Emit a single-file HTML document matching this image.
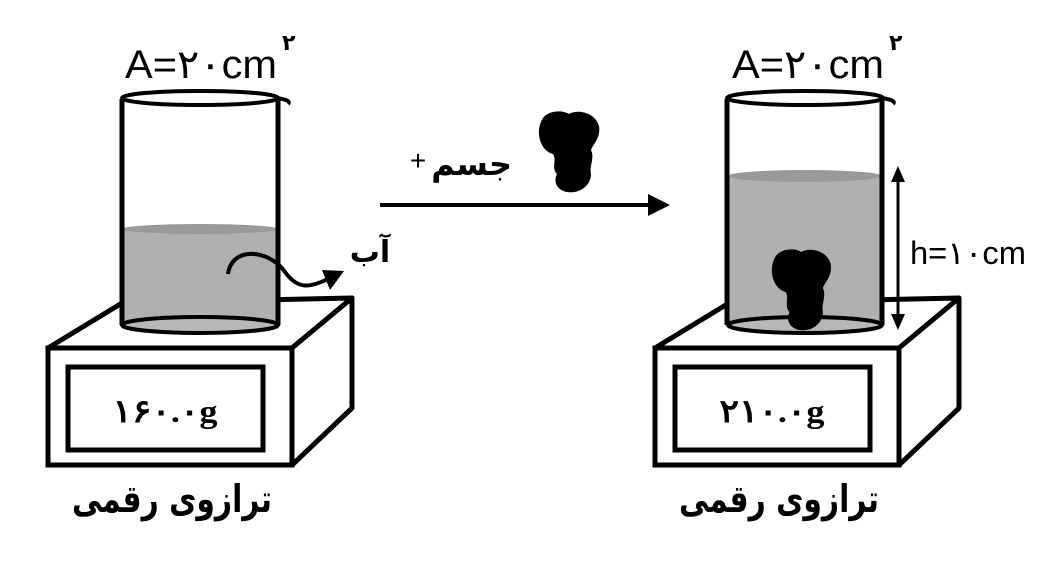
<!DOCTYPE html>
<html><head><meta charset="utf-8"><style>
html,body{margin:0;padding:0;background:#fff;}
svg{display:block;}
text{font-family:"Liberation Sans","Noto Sans CJK SC",sans-serif;}
.fa{font-family:"DejaVu Sans","Noto Sans CJK SC",sans-serif;font-weight:bold;}
.sr{font-family:"Liberation Serif","DejaVu Serif",serif;font-weight:bold;}
</style></head><body>
<svg width="1054" height="574" viewBox="0 0 1054 574" xmlns="http://www.w3.org/2000/svg">
<defs>
<path id="blob" d="M8,8 C14,0 28,0 34,4 C42,-1 60,2 64,16 C66,28 58,34 56,40 C60,48 54,56 56,64 C56,76 44,84 32,82 C22,80 18,72 22,64 C16,58 22,50 18,44 C4,40 0,20 8,8 Z" fill="#000"/>
<g id="scale">
  <polygon points="48,348 122,303 352,298 292,348" fill="#fff" stroke="#000" stroke-width="5" stroke-linejoin="round"/>
  <polygon points="292,348 352,298 352,408 292,465" fill="#fff" stroke="#000" stroke-width="5" stroke-linejoin="round"/>
  <rect x="48" y="348" width="244" height="117" fill="#fff" stroke="#000" stroke-width="5"/>
  <rect x="68" y="367" width="195" height="83" fill="#fff" stroke="#000" stroke-width="5"/>
  <text x="172" y="512" font-size="38" text-anchor="middle" class="fa" direction="rtl" textLength="200" lengthAdjust="spacingAndGlyphs">ترازوی رقمی</text>
  <text x="125" y="78" font-size="40" textLength="152" lengthAdjust="spacingAndGlyphs">A=۲۰cm</text>
  <text x="282" y="50" font-size="22" class="fa">۲</text>
</g>
</defs>

<!-- LEFT -->
<use href="#scale"/>
<path d="M122,228 L278,228 L278,325 A78,8 0 0 1 122,325 Z" fill="#b0b0b0"/>
<ellipse cx="200" cy="229" rx="78" ry="5" fill="#999"/>
<ellipse cx="200" cy="325" rx="78" ry="8" fill="#b8b8b8" stroke="#000" stroke-width="4"/>
<line x1="122" y1="99" x2="122" y2="325" stroke="#000" stroke-width="5"/>
<line x1="278" y1="99" x2="278" y2="325" stroke="#000" stroke-width="5"/>
<ellipse cx="200" cy="98" rx="78" ry="7" fill="#fff" stroke="#000" stroke-width="4"/>
<path d="M276,98 Q292,100 288,104" fill="none" stroke="#000" stroke-width="4"/>
<text x="165" y="422" font-size="32" text-anchor="middle" class="sr" textLength="105" lengthAdjust="spacingAndGlyphs">۱۶۰.۰g</text>
<path d="M228,274 C232,245 270,250 285,272 C298,290 310,288 330,278" fill="none" stroke="#000" stroke-width="4"/>
<polygon points="344,271 322,270 330,290" fill="#000"/>
<text x="370" y="262" font-size="30" text-anchor="middle" class="fa">آب</text>

<!-- MIDDLE -->
<line x1="380" y1="205" x2="652" y2="205" stroke="#000" stroke-width="4"/>
<polygon points="670,205 648,194 648,216" fill="#000"/>
<use href="#blob" transform="translate(535,110)"/>
<text x="512" y="175" font-size="32" text-anchor="end" class="fa">جسم</text>
<text x="418" y="170" font-size="28" text-anchor="middle">+</text>

<!-- RIGHT -->
<g transform="translate(607,0)"><use href="#scale"/></g>
<path d="M727,175 L882,175 L882,325 A77,8 0 0 1 727,325 Z" fill="#b0b0b0"/>
<ellipse cx="805" cy="176" rx="77" ry="6" fill="#999"/>
<ellipse cx="805" cy="325" rx="77" ry="8" fill="#b8b8b8" stroke="#000" stroke-width="4"/>
<use href="#blob" transform="translate(768,248) scale(0.98,1)"/>
<line x1="727" y1="99" x2="727" y2="325" stroke="#000" stroke-width="5"/>
<line x1="882" y1="99" x2="882" y2="325" stroke="#000" stroke-width="5"/>
<ellipse cx="805" cy="98" rx="78" ry="7" fill="#fff" stroke="#000" stroke-width="4"/>
<path d="M881,98 Q897,100 893,104" fill="none" stroke="#000" stroke-width="4"/>
<text x="772" y="422" font-size="32" text-anchor="middle" class="sr" textLength="105" lengthAdjust="spacingAndGlyphs">۲۱۰.۰g</text>
<line x1="898" y1="180" x2="898" y2="316" stroke="#000" stroke-width="3"/>
<polygon points="898,166 891,182 905,182" fill="#000"/>
<polygon points="898,330 891,314 905,314" fill="#000"/>
<text x="910" y="264" font-size="32" textLength="116" lengthAdjust="spacingAndGlyphs">h=۱۰cm</text>
</svg>
</body></html>
